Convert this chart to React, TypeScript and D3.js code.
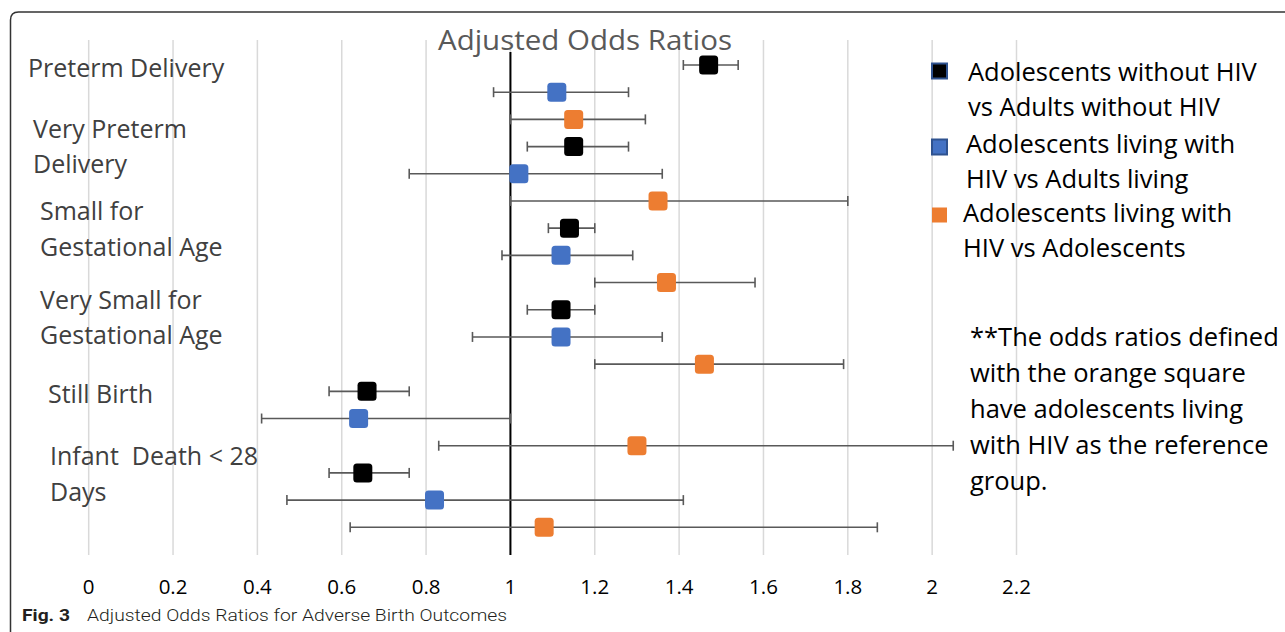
import React from "react";
import * as d3 from "d3";

const W = 1285;
const H = 632;

const categories = [
  "Preterm Delivery",
  "Very Preterm Delivery",
  "Small for Gestational Age",
  "Very Small for Gestational Age",
  "Still Birth",
  "Infant  Death < 28 Days",
];
const categoryLines = [
  ["Preterm Delivery"],
  ["Very Preterm", "Delivery"],
  ["Small for", "Gestational Age"],
  ["Very Small for", "Gestational Age"],
  ["Still Birth"],
  ["Infant  Death < 28", "Days"],
];

const seriesNames = [
  ["Adolescents without HIV", "vs Adults without HIV"],
  ["Adolescents living with", "HIV vs Adults living"],
  ["Adolescents living with", "HIV vs Adolescents"],
];
const blackEst = [1.47, 1.15, 1.14, 1.12, 0.66, 0.65];
const blackLo = [1.41, 1.04, 1.09, 1.04, 0.57, 0.57];
const blackHi = [1.54, 1.28, 1.2, 1.2, 0.76, 0.76];
const blueEst = [1.11, 1.02, 1.12, 1.12, 0.64, 0.82];
const blueLo = [0.96, 0.76, 0.98, 0.91, 0.41, 0.47];
const blueHi = [1.28, 1.36, 1.29, 1.36, 1.0, 1.41];
const orangeEst = [1.15, 1.35, 1.37, 1.46, 1.3, 1.08];
const orangeLo = [1.0, 1.0, 1.2, 1.2, 0.83, 0.62];
const orangeHi = [1.32, 1.8, 1.58, 1.79, 2.05, 1.87];

const xTicks = [0, 0.2, 0.4, 0.6, 0.8, 1, 1.2, 1.4, 1.6, 1.8, 2, 2.2];
const noteLines = [
  "**The odds ratios defined",
  "with the orange square",
  "have adolescents living",
  "with HIV as the reference",
  "group.",
];

const colors = ["#000000", "#4472C4", "#ED7D31"];
const legendStroke = ["#2F528F", "#2F528F", "none"];

// layout (not data)
const labelPos = [
  { x: 28, y: [77] },
  { x: 33, y: [138, 173] },
  { x: 40, y: [220, 256] },
  { x: 40, y: [309, 344] },
  { x: 48, y: [403] },
  { x: 50, y: [465, 501] },
];
const legendPos = [
  { my: 71, tx: 968, ty: [81, 116] },
  { my: 147, tx: 966, ty: [153, 188] },
  { my: 215, tx: 963, ty: [222, 257] },
];

const FONT = "'Open Sans', Lato, sans-serif";

export default function App() {
  const x = d3.scaleLinear().domain([0, 2.2]).range([88.7, 1016.5]);
  const rows = d3.range(18);
  const y = d3.scalePoint<number>().domain(rows).range([65, 527.3]);

  const series = [
    { est: blackEst, lo: blackLo, hi: blackHi },
    { est: blueEst, lo: blueLo, hi: blueHi },
    { est: orangeEst, lo: orangeLo, hi: orangeHi },
  ];

  const gridTop = 40;
  const gridBottom = 555;
  const ms = 19;

  const marks: React.ReactNode[] = [];
  categories.forEach((_, ci) => {
    series.forEach((s, si) => {
      const yy = y(ci * 3 + si) as number;
      const x0 = x(s.lo[ci]);
      const x1 = x(s.hi[ci]);
      marks.push(
        <g key={`e${ci}-${si}`} stroke="#595959" strokeWidth={1.6}>
          <line x1={x0} x2={x1} y1={yy} y2={yy} />
          <line x1={x0} x2={x0} y1={yy - 5} y2={yy + 5} />
          <line x1={x1} x2={x1} y1={yy - 5} y2={yy + 5} />
        </g>
      );
    });
  });
  const points: React.ReactNode[] = [];
  categories.forEach((_, ci) => {
    series.forEach((s, si) => {
      const yy = y(ci * 3 + si) as number;
      points.push(
        <rect
          key={`p${ci}-${si}`}
          x={x(s.est[ci]) - ms / 2}
          y={yy - ms / 2}
          width={ms}
          height={ms}
          rx={3.5}
          fill={colors[si]}
        />
      );
    });
  });

  return (
    <svg
      width={W}
      height={H}
      style={{ position: "absolute", left: 0, top: 0, background: "#fff" }}
      fontFamily={FONT}
    >
      <rect x={0} y={0} width={W} height={H} fill="#fff" />
      {/* panel border */}
      <path
        d={`M10.5,${H} L10.5,20 Q10.5,12 18.5,12 L${W},12`}
        fill="none"
        stroke="#333"
        strokeWidth={1.5}
      />
      {/* gridlines */}
      {xTicks.map((t) => (
        <line
          key={`g${t}`}
          x1={x(t)}
          x2={x(t)}
          y1={gridTop}
          y2={gridBottom}
          stroke="#d9d9d9"
          strokeWidth={1.5}
        />
      ))}
      {/* title */}
      <text x={438} y={50} fontSize={28} fill="#595959" textLength={294} lengthAdjust="spacingAndGlyphs">
        Adjusted Odds Ratios
      </text>
      {/* reference line at 1 */}
      <line x1={x(1)} x2={x(1)} y1={52} y2={gridBottom} stroke="#000" strokeWidth={2} />
      {marks}
      {points}
      {/* tick labels */}
      {xTicks.map((t) => (
        <text key={`t${t}`} x={x(t)} y={594} fontSize={20.5} textAnchor="middle" fill="#000">
          {String(t)}
        </text>
      ))}
      {/* category labels */}
      {categoryLines.map((lines, ci) =>
        lines.map((ln, li) => (
          <text
            key={`c${ci}-${li}`}
            x={labelPos[ci].x}
            y={labelPos[ci].y[li]}
            fontSize={25}
            fill="#404040"
            style={{ whiteSpace: "pre" }}
          >
            {ln}
          </text>
        ))
      )}
      {/* legend */}
      {seriesNames.map((nm, si) => (
        <g key={`l${si}`}>
          <rect
            x={932}
            y={legendPos[si].my - 7.5}
            width={15}
            height={15}
            fill={colors[si]}
            stroke={legendStroke[si]}
            strokeWidth={legendStroke[si] === "none" ? 0 : 2}
          />
          {nm.map((ln, li) => (
            <text key={li} x={legendPos[si].tx} y={legendPos[si].ty[li]} fontSize={25.5} fill="#000">
              {ln}
            </text>
          ))}
        </g>
      ))}
      {/* note */}
      {noteLines.map((ln, i) => (
        <text key={`n${i}`} x={970} y={346 + i * 36} fontSize={25.5} fill="#000">
          {ln}
        </text>
      ))}
      {/* caption */}
      <g fill="#231f20" fontFamily="Roboto, 'Liberation Sans', sans-serif">
        <text x={22} y={621} fontSize={17} fontWeight="bold" textLength={48} lengthAdjust="spacingAndGlyphs">
          Fig. 3
        </text>
        <text x={87} y={621} fontSize={17} fontWeight={300} textLength={420} lengthAdjust="spacingAndGlyphs">
          Adjusted Odds Ratios for Adverse Birth Outcomes
        </text>
      </g>
    </svg>
  );
}
